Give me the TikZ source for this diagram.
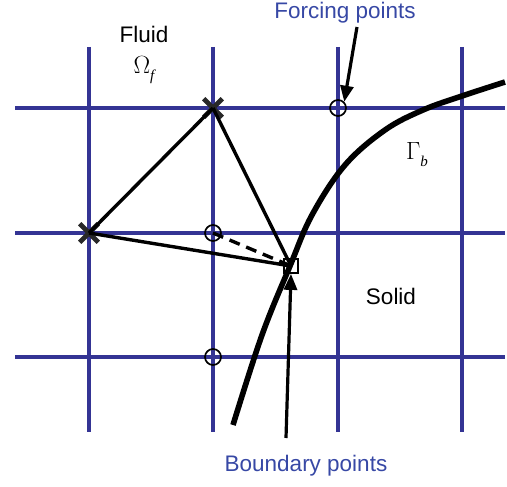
\documentclass[tikz,border=0pt]{standalone}
\usepackage{fontspec}
\setmainfont{Liberation Sans}
\newfontfamily\serfont{Liberation Serif}
\usetikzlibrary{arrows.meta,shapes.misc}
\definecolor{gridblue}{RGB}{52,52,148}
\definecolor{txtblue}{RGB}{55,72,165}
\definecolor{xgray}{RGB}{40,40,40}
\tikzset{
  gridline/.style={draw=gridblue,line width=4.4pt},
  thinline/.style={draw=black,line width=3.4pt},
  fpoint/.style={circle,draw=black,line width=1.7pt,minimum size=16pt,inner sep=0pt},
  bpoint/.style={rectangle,draw=black,line width=1.8pt,minimum size=14pt,inner sep=0pt},
  xmark/.style={cross out,draw=xgray,line width=4.6pt,minimum size=14pt,inner sep=0pt},
  lbl/.style={font=\fontsize{22.5}{26}\selectfont,inner sep=0pt},
  bluelbl/.style={lbl,text=txtblue},
  pointer/.style={draw=black,line width=3.2pt,-{Triangle[length=16pt,width=13pt]}}
}
\begin{document}
\begin{tikzpicture}[x=1pt,y=-1pt]
\useasboundingbox (0,0) rectangle (507,487);
% grid
\foreach \xx in {89,213,338,462} \draw[gridline] (\xx,47) -- (\xx,432);
\foreach \yy in {108,233,357} \draw[gridline] (15,\yy) -- (505,\yy);
% boundary curve
\draw[line width=5.6pt] plot[smooth,tension=0.6] coordinates {(233,425) (262,335) (290,266) (312,215) (345,165) (385,130) (423,110) (462,96) (505,82)};
% nodes
\node[xmark] (x1) at (213,108) {};
\node[xmark] (x2) at (89,233) {};
\node[fpoint] (f1) at (338,108) {};
\node[fpoint] (f2) at (213,233) {};
\node[fpoint] (f3) at (213,357) {};
\node[bpoint] (b) at (291,266) {};
% connectors
\draw[thinline] (x1.center) -- (x2.center);
\draw[thinline] (x1.center) -- (b.center);
\draw[thinline] (x2.center) -- (b.center);
\draw[thinline,dash pattern=on 11pt off 7pt] (f2.center) -- (b.center);
% labels
\node[lbl] (fluid) at (144,34) {Fluid};
\node[lbl,font=\serfont\fontsize{25}{26}\selectfont] (omega) at (144,70) {$\Omega$\raisebox{-7pt}{\fontsize{15}{16}\selectfont\itshape f}};
\node[lbl,font=\serfont\fontsize{25}{26}\selectfont] (gamma) at (417,155) {$\Gamma$\raisebox{-7pt}{\fontsize{15}{16}\selectfont\itshape b}};
\node[lbl] (solid) at (391,296) {Solid};
\node[bluelbl] (forcing) at (345,13) {Forcing points};
\node[bluelbl] (boundary) at (306,466) {Boundary points};
\coordinate (fa) at (357,27);
\coordinate (ba) at (286,438);
\draw[pointer] (fa) -- (f1.north east);
\draw[pointer] (ba) -- (b.south);
\end{tikzpicture}
\end{document}
